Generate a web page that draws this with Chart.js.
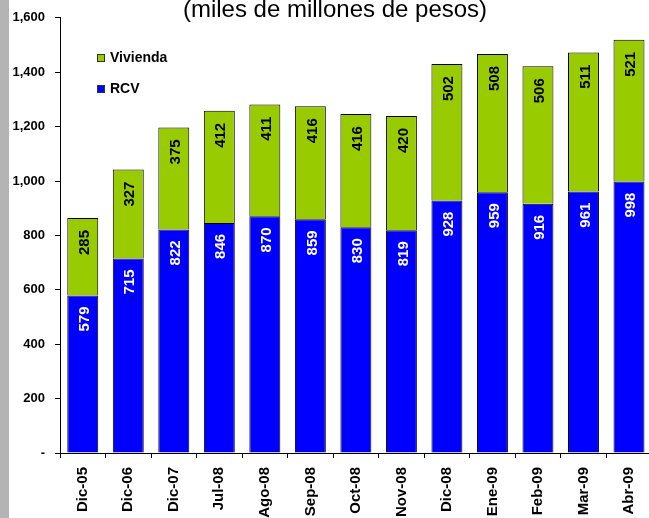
<!DOCTYPE html>
<html>
<head>
<meta charset="utf-8">
<script src="https://cdn.jsdelivr.net/npm/chart.js@4"></script>
<style>
  html, body { margin: 0; padding: 0; overflow: hidden; background: #fff; }
  #wrap { position: relative; width: 656px; height: 518px; }
</style>
</head>
<body>
<div id="wrap"><canvas id="chart" width="656" height="518"></canvas></div>
<script>
// Data
const labels = ['Dic-05', 'Dic-06', 'Dic-07', 'Jul-08', 'Ago-08', 'Sep-08', 'Oct-08',
  'Nov-08', 'Dic-08', 'Ene-09', 'Feb-09', 'Mar-09', 'Abr-09'];
const rcv = [579, 715, 822, 846, 870, 859, 830, 819, 928, 959, 916, 961, 998];
const vivienda = [285, 327, 375, 412, 411, 416, 416, 420, 502, 508, 506, 511, 521];
const yTicks = [0, 200, 400, 600, 800, 1000, 1200, 1400, 1600];
const title = '(miles de millones de pesos)';

const colors = {
  rcv: '#0000ff',
  vivienda: '#99cc00',
  border: '#000000',
  strip: '#b4b4b4'
};

const FONT = 'Arial, "Liberation Sans", sans-serif';

// Title, legend, side strip and value labels
const decorations = {
  id: 'decorations',
  beforeDraw(chart) {
    const ctx = chart.ctx;
    ctx.save();
    ctx.fillStyle = colors.strip;
    ctx.fillRect(0, 0, 9, chart.height);
    ctx.restore();
  },
  afterDatasetsDraw(chart) {
    const ctx = chart.ctx;
    ctx.save();
    ctx.font = 'bold 15px ' + FONT;
    ctx.textAlign = 'right';
    ctx.textBaseline = 'middle';
    chart.data.datasets.forEach((ds, i) => {
      const meta = chart.getDatasetMeta(i);
      meta.data.forEach((bar, j) => {
        ctx.save();
        ctx.translate(bar.x + 2, bar.y + (i === 0 ? 11 : 12));
        ctx.rotate(-Math.PI / 2);
        ctx.fillStyle = i === 0 ? '#ffffff' : '#000000';
        ctx.fillText(String(ds.data[j]), 0, 0);
        ctx.restore();
      });
    });
    ctx.restore();
  },
  afterDraw(chart) {
    const ctx = chart.ctx;
    ctx.save();
    // title (top partly cut off)
    ctx.font = '24px ' + FONT;
    ctx.fillStyle = '#000';
    ctx.textAlign = 'center';
    ctx.textBaseline = 'alphabetic';
    ctx.fillText(title, 335, 17);

    // legend
    const items = [
      { text: 'Vivienda', color: colors.vivienda, y: 54 },
      { text: 'RCV', color: colors.rcv, y: 85 }
    ];
    ctx.font = 'bold 14px ' + FONT;
    ctx.textAlign = 'left';
    ctx.textBaseline = 'middle';
    items.forEach(it => {
      ctx.fillStyle = it.color;
      ctx.fillRect(97.5, it.y + 0.5, 7, 7);
      ctx.strokeStyle = '#333';
      ctx.lineWidth = 1;
      ctx.strokeRect(97.5, it.y + 0.5, 7, 7);
      ctx.fillStyle = '#000';
      ctx.fillText(it.text, 110, it.y + 4.5);
    });
    ctx.restore();
  }
};

new Chart(document.getElementById('chart').getContext('2d'), {
  type: 'bar',
  data: {
    labels: labels,
    datasets: [
      {
        label: 'RCV',
        data: rcv,
        backgroundColor: colors.rcv,
        borderColor: colors.border,
        borderWidth: 1,
        barPercentage: 0.68,
        categoryPercentage: 1
      },
      {
        label: 'Vivienda',
        data: vivienda,
        backgroundColor: colors.vivienda,
        borderColor: colors.border,
        borderWidth: 1,
        barPercentage: 0.68,
        categoryPercentage: 1
      }
    ]
  },
  options: {
    responsive: false,
    animation: false,
    layout: { padding: { top: 17, left: 0, right: 0, bottom: 0 } },
    plugins: {
      legend: { display: false },
      title: { display: false },
      tooltip: { enabled: false }
    },
    scales: {
      x: {
        stacked: true,
        offset: true,
        afterFit: (scale) => { scale.height = 65; },
        grid: {
          offset: true,
          drawOnChartArea: false,
          tickLength: 5,
          color: '#000'
        },
        border: { color: '#000', width: 1 },
        ticks: {
          color: '#000',
          font: { family: FONT, size: 15, weight: 'bold' },
          maxRotation: 90,
          minRotation: 90,
          padding: 9,
          autoSkip: false
        }
      },
      y: {
        stacked: true,
        min: 0,
        max: 1600,
        afterFit: (scale) => { scale.width = 60; },
        afterBuildTicks: (scale) => { scale.ticks = yTicks.map(v => ({ value: v })); },
        grid: {
          drawOnChartArea: false,
          tickLength: 5,
          color: '#000'
        },
        border: { color: '#000', width: 1 },
        ticks: {
          color: '#000',
          font: { family: FONT, size: 13, weight: 'bold' },
          padding: 10,
          callback: (value) => value === 0 ? '-' : value.toLocaleString('en-US')
        }
      }
    }
  },
  plugins: [decorations]
});
</script>
</body>
</html>
